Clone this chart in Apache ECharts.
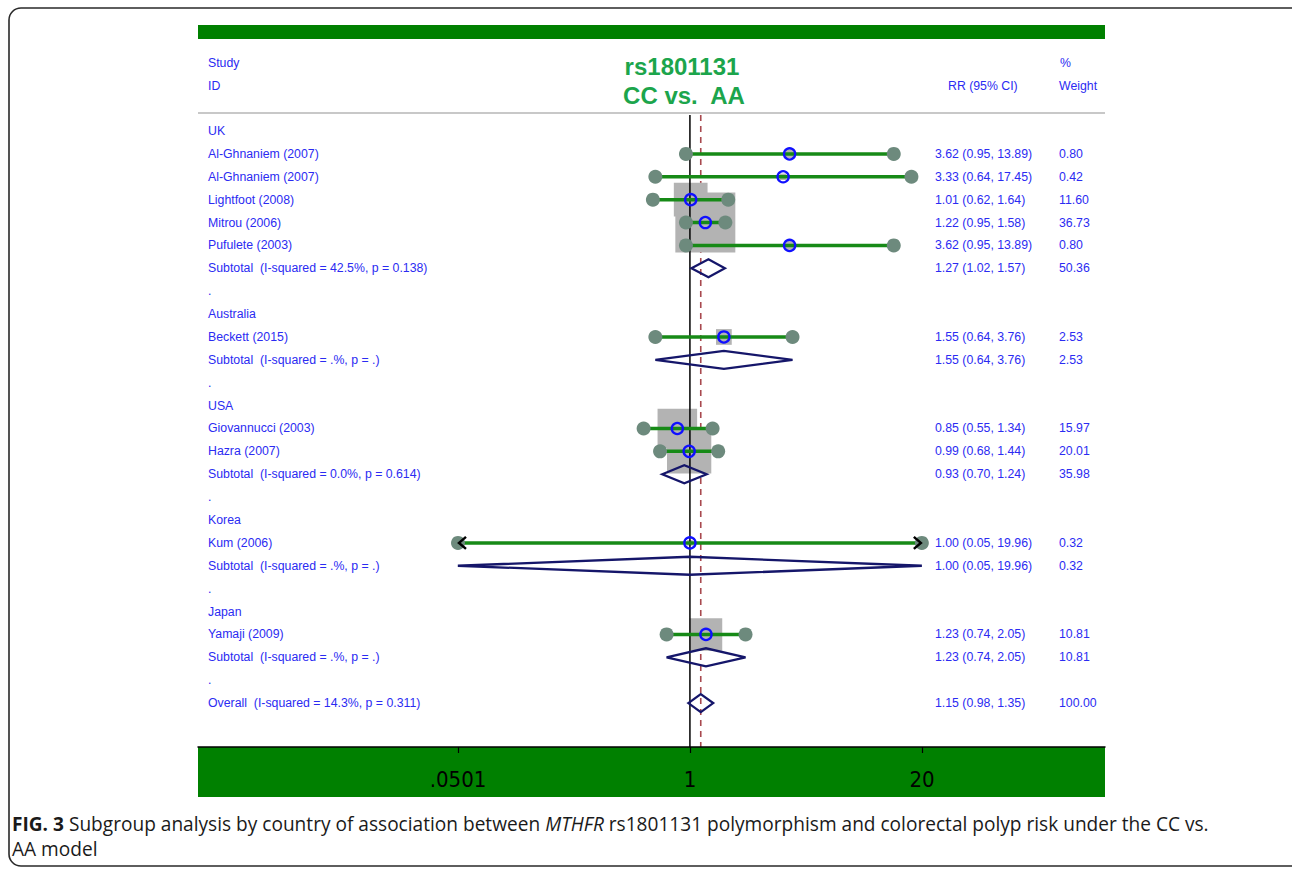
<!DOCTYPE html>
<html>
<head>
<meta charset="utf-8">
<script src="https://cdn.jsdelivr.net/npm/echarts@6/dist/echarts.min.js"></script>
<style>
html,body{margin:0;padding:0;background:#fff;}
#chart{width:1292px;height:869px;}
</style>
</head>
<body>
<div id="chart"></div>
<script>
// ---- Forest plot data: MTHFR rs1801131, CC vs. AA, grouped by country ----
const countries = ['UK', 'Australia', 'USA', 'Korea', 'Japan'];

const studyNames   = ['Al-Ghnaniem (2007)', 'Al-Ghnaniem (2007)', 'Lightfoot (2008)', 'Mitrou (2006)', 'Pufulete (2003)',
                      'Beckett (2015)', 'Giovannucci (2003)', 'Hazra (2007)', 'Kum (2006)', 'Yamaji (2009)'];
const studyCountry = [0, 0, 0, 0, 0, 1, 2, 2, 3, 4];
const studyRR      = [3.62, 3.33, 1.01, 1.22, 3.62, 1.55, 0.85, 0.99, 1.00, 1.23];
const studyLow     = [0.95, 0.64, 0.62, 0.95, 0.95, 0.64, 0.55, 0.68, 0.05, 0.74];
const studyHigh    = [13.89, 17.45, 1.64, 1.58, 13.89, 3.76, 1.34, 1.44, 19.96, 2.05];
const studyWeight  = [0.80, 0.42, 11.60, 36.73, 0.80, 2.53, 15.97, 20.01, 0.32, 10.81];

const subtotalHet    = ['I-squared = 42.5%, p = 0.138', 'I-squared = .%, p = .', 'I-squared = 0.0%, p = 0.614',
                        'I-squared = .%, p = .', 'I-squared = .%, p = .'];
const subtotalRR     = [1.27, 1.55, 0.93, 1.00, 1.23];
const subtotalLow    = [1.02, 0.64, 0.70, 0.05, 0.74];
const subtotalHigh   = [1.57, 3.76, 1.24, 19.96, 2.05];
const subtotalWeight = [50.36, 2.53, 35.98, 0.32, 10.81];

const overallHet = 'I-squared = 14.3%, p = 0.311';
const overallRR = 1.15, overallLow = 0.98, overallHigh = 1.35, overallWeight = 100.00;

// x axis (ratio scale, drawn on log10)
const tickValues = [0.0501, 1, 20];
const tickLabels = ['.0501', '1', '20'];
const clipLow = 0.0501, clipHigh = 19.96;   // CIs reaching these limits end in arrows

// ---- Build the row list ----
const rows = [];
countries.forEach(function (c, ci) {
  rows.push({ kind: 'head', label: c });
  studyNames.forEach(function (n, si) {
    if (studyCountry[si] !== ci) return;
    rows.push({ kind: 'study', label: n, rr: studyRR[si], lo: studyLow[si], hi: studyHigh[si], w: studyWeight[si] });
  });
  rows.push({ kind: 'pool', label: 'Subtotal\u00a0 (' + subtotalHet[ci] + ')',
              rr: subtotalRR[ci], lo: subtotalLow[ci], hi: subtotalHigh[ci], w: subtotalWeight[ci] });
  rows.push({ kind: 'gap', label: '.' });
});
rows.push({ kind: 'pool', label: 'Overall\u00a0 (' + overallHet + ')',
            rr: overallRR, lo: overallLow, hi: overallHigh, w: overallWeight });

// ---- Styling / layout ----
const BLUE = '#2b2bf2';
const GREEN_BAND = '#008000';
const CI_GREEN = '#178a17';
const DOT_GRAY = '#6d8a7d';
const RING_BLUE = '#1010ff';
const NAVY = '#15166a';
const BOX_GRAY = '#b3b3b3';
const REF_RED = '#a8494f';
const FONT = '"Liberation Sans", Arial, Helvetica, sans-serif';
const TEXT_FONT = '12.3px ' + FONT;
const CAPTION_FONT = '"Open Sans", sans-serif';

const gridLeft = 198, gridRight = 1105, gridTop = 25, gridBottom = 747;
const colLabel = 208, colEst = 935, colWeight = 1059;
const rowTopRef = -0.7;           // reference lines start just under the header rule
const yMin = -4.633, yMax = 26.92;
const xMinLog = -2.7577, xMaxLog = 2.3269;
const boxScale = 9.9;             // box side = boxScale * sqrt(weight)

const fmt = v => v.toFixed(2);
const log = v => Math.log10(v);

const dataPts = rows.map((r, i) => [r.rr ? log(r.rr) : 0, i]);

function textEl(s, x, y, extra) {
  return { type: 'text', silent: true,
    style: Object.assign({ text: s, x: x, y: y, fill: BLUE, font: TEXT_FONT,
      align: 'left', verticalAlign: 'middle' }, extra || {}) };
}

function renderRow(params, api) {
  const i = params.dataIndex;
  const r = rows[i];
  const y = api.coord([0, i])[1];
  const X = v => api.coord([log(v), i])[0];
  const kids = [textEl(r.label, colLabel, y)];
  if (r.kind === 'study') {
    const loC = r.lo <= clipLow, hiC = r.hi >= clipHigh;
    const x0 = X(loC ? clipLow : r.lo), x1 = X(hiC ? clipHigh : r.hi), xm = X(r.rr);
    kids.push({ type: 'line', shape: { x1: x0, y1: y, x2: x1, y2: y }, style: { stroke: CI_GREEN, lineWidth: 3.5 } });
    kids.push({ type: 'circle', shape: { cx: x0, cy: y, r: 7 }, style: { fill: DOT_GRAY } });
    kids.push({ type: 'circle', shape: { cx: x1, cy: y, r: 7 }, style: { fill: DOT_GRAY } });
    if (loC) kids.push({ type: 'polyline', shape: { points: [[x0 + 8, y - 6], [x0 + 1, y], [x0 + 8, y + 6]] },
                         style: { stroke: '#000', lineWidth: 2.5, fill: null } });
    if (hiC) kids.push({ type: 'polyline', shape: { points: [[x1 - 8, y - 6], [x1 - 1, y], [x1 - 8, y + 6]] },
                         style: { stroke: '#000', lineWidth: 2.5, fill: null } });
    kids.push({ type: 'circle', shape: { cx: xm, cy: y, r: 5.6 }, style: { fill: null, stroke: RING_BLUE, lineWidth: 2.3 } });
  }
  if (r.kind === 'pool') {
    const x0 = X(r.lo), x1 = X(r.hi), xm = X(r.rr);
    kids.push({ type: 'polygon', shape: { points: [[x0, y], [xm, y - 9], [x1, y], [xm, y + 9]] },
                style: { fill: null, stroke: NAVY, lineWidth: 2.3 } });
  }
  if (r.rr) {
    kids.push(textEl(fmt(r.rr) + ' (' + fmt(r.lo) + ', ' + fmt(r.hi) + ')', colEst, y));
    kids.push(textEl(fmt(r.w), colWeight, y));
  }
  return { type: 'group', children: kids };
}

function renderBox(params, api) {
  const i = params.dataIndex;
  const r = rows[i];
  if (r.kind !== 'study') return null;
  const c = api.coord([log(r.rr), i]);
  const s = boxScale * Math.sqrt(r.w);
  return { type: 'rect', shape: { x: c[0] - s / 2, y: c[1] - s / 2, width: s, height: s }, style: { fill: BOX_GRAY } };
}

function refLine(value, style) {
  return function (params, api) {
    const top = api.coord([log(value), rowTopRef]);
    const bot = api.coord([log(value), yMax]);
    return { type: 'line', shape: { x1: top[0], y1: top[1], x2: bot[0], y2: bot[1] }, style: style };
  };
}

const chart = echarts.init(document.getElementById('chart'), null, { renderer: 'svg' });

chart.setOption({
  backgroundColor: '#ffffff',
  animation: false,
  grid: { left: gridLeft, top: gridTop, width: gridRight - gridLeft, height: gridBottom - gridTop, containLabel: false },
  xAxis: {
    type: 'value', min: xMinLog, max: xMaxLog, z: 10, position: 'bottom',
    axisLine: { show: true, onZero: false, lineStyle: { color: '#000', width: 1.5 } },
    axisTick: { show: true, inside: false, length: 6, customValues: tickValues.map(log), lineStyle: { color: '#000', width: 1.2 } },
    axisLabel: {
      customValues: tickValues.map(log), margin: 21, color: '#000',
      fontFamily: '"Liberation Sans Narrow", "DejaVu Sans Condensed", Arial, sans-serif', fontSize: 22,
      formatter: function (v) {
        let best = 0;
        tickValues.forEach((t, k) => { if (Math.abs(log(t) - v) < Math.abs(log(tickValues[best]) - v)) best = k; });
        return tickLabels[best];
      }
    },
    splitLine: { show: false }
  },
  yAxis: { type: 'value', min: yMin, max: yMax, inverse: true, show: false },
  graphic: [
    // frame
    { type: 'rect', shape: { x: 9, y: 8, width: 1300, height: 858, r: 12 }, style: { fill: null, stroke: '#2a2a2a', lineWidth: 1.6 }, z: 0 },
    // top band and header rule
    { type: 'rect', shape: { x: gridLeft, y: 25, width: gridRight - gridLeft, height: 14 }, style: { fill: GREEN_BAND } },
    { type: 'rect', shape: { x: gridLeft, y: 112, width: gridRight - gridLeft, height: 2 }, style: { fill: '#c8c8c8' } },
    // bottom band behind the axis labels
    { type: 'rect', shape: { x: gridLeft, y: gridBottom, width: gridRight - gridLeft, height: 50 }, style: { fill: GREEN_BAND } },
    // column headers
    { type: 'text', style: { text: 'Study', x: colLabel, y: 63, fill: BLUE, font: TEXT_FONT, verticalAlign: 'middle' } },
    { type: 'text', style: { text: 'ID', x: colLabel, y: 86, fill: BLUE, font: TEXT_FONT, verticalAlign: 'middle' } },
    { type: 'text', style: { text: 'RR (95% CI)', x: 948, y: 86, fill: BLUE, font: TEXT_FONT, verticalAlign: 'middle' } },
    { type: 'text', style: { text: '%', x: 1060, y: 63, fill: BLUE, font: TEXT_FONT, verticalAlign: 'middle' } },
    { type: 'text', style: { text: 'Weight', x: 1059, y: 86, fill: BLUE, font: TEXT_FONT, verticalAlign: 'middle' } },
    // title
    { type: 'text', style: { text: 'rs1801131', x: 682, y: 66, fill: '#1ca54c', font: 'bold 24px ' + FONT, align: 'center', verticalAlign: 'middle' } },
    { type: 'text', style: { text: 'CC vs.\u00a0 AA', x: 684, y: 95, fill: '#1ca54c', font: 'bold 24px ' + FONT, align: 'center', verticalAlign: 'middle' } },
    // caption
    { type: 'text', x: 12, y: 823, scaleX: 0.955,
      style: { text: '{b|FIG. 3} Subgroup analysis by country of association between {i|MTHFR} rs1801131 polymorphism and colorectal polyp risk under the CC vs.',
        fill: '#1a1a1a', font: '20px ' + CAPTION_FONT, verticalAlign: 'middle',
        rich: { b: { fontWeight: 'bold', fontSize: 20, fontFamily: CAPTION_FONT, fill: '#1a1a1a' },
                i: { fontStyle: 'italic', fontSize: 20, fontFamily: CAPTION_FONT, fill: '#1a1a1a' } } } },
    { type: 'text', x: 12, y: 848, scaleX: 0.955,
      style: { text: 'AA model', fill: '#1a1a1a', font: '20px ' + CAPTION_FONT, verticalAlign: 'middle' } }
  ],
  series: [
    { type: 'custom', name: 'overall estimate line', z: 1, data: [[log(overallRR), 0]],
      renderItem: refLine(overallRR, { stroke: REF_RED, lineWidth: 1.6, lineDash: [6, 5] }) },
    { type: 'custom', name: 'weights', z: 2, data: dataPts, encode: { x: 0, y: 1 }, renderItem: renderBox },
    { type: 'custom', name: 'no effect line', z: 3, data: [[0, 0]],
      renderItem: refLine(1, { stroke: '#000', lineWidth: 1.5 }) },
    { type: 'custom', name: 'studies', z: 4, data: dataPts, encode: { x: 0, y: 1 }, renderItem: renderRow }
  ]
});
</script>
</body>
</html>
